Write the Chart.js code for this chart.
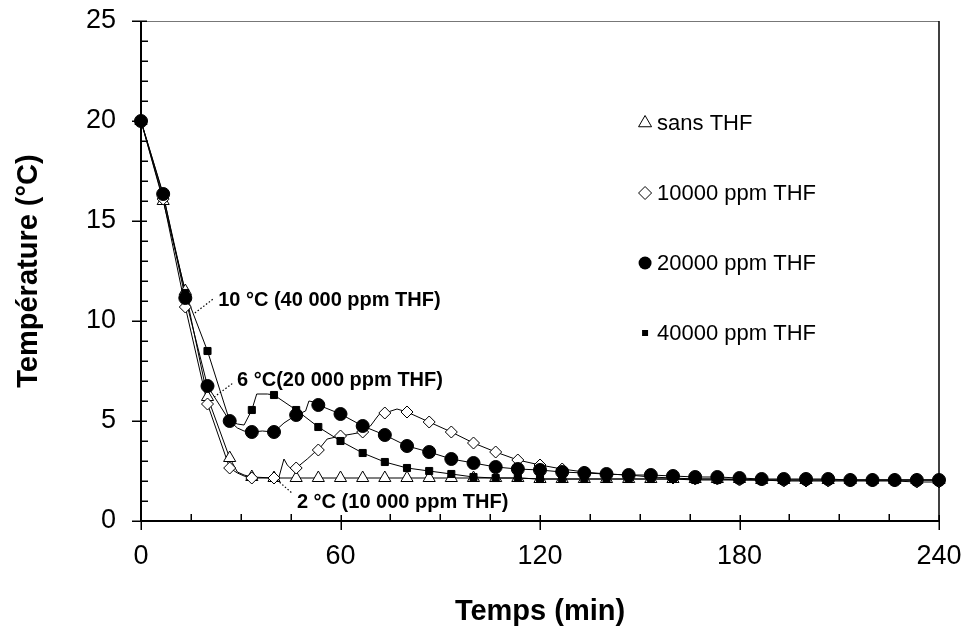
<!DOCTYPE html>
<html><head><meta charset="utf-8">
<script src="https://cdn.jsdelivr.net/npm/chart.js@4.4.0/dist/chart.umd.min.js"></script>
<style>html,body{margin:0;padding:0;background:#fff;}#c{display:block;}</style>
</head><body>
<canvas id="c" width="967" height="633"></canvas>
<script>
// ---- data ----
const SERIES_NAMES = ['sans THF', '10000 ppm THF', '20000 ppm THF', '40000 ppm THF'];
const MARK_T = [0,6.67,13.33,20,26.67,33.33,40,46.67,53.33,60,66.67,73.33,80,86.67,93.33,100,106.67,113.33,120,126.67,133.33,140,146.67,153.33,160,166.67,173.33,180,186.67,193.33,200,206.67,213.33,220,226.67,233.33,240];
const SANS_THF = [20.0,16.0,11.5,6.2,3.15,2.2,2.15,2.15,2.15,2.15,2.15,2.15,2.15,2.15,2.15,2.15,2.15,2.15,2.1,2.1,2.1,2.1,2.1,2.1,2.1,2.1,2.1,2.1,2.05,2.05,2.05,2.05,2.05,2.05,2.05,2.05,2.05];
const THF_10000 = [20.0,16.1,10.7,5.85,2.65,2.15,2.15,2.65,3.55,4.25,4.45,5.4,5.45,4.95,4.45,3.9,3.45,3.05,2.8,2.6,2.45,2.35,2.3,2.2,2.15,2.1,2.1,2.05,2.05,2.0,2.0,2.0,2.0,2.0,2.0,1.95,1.95];
const THF_20000 = [20.0,16.35,11.15,6.75,5.0,4.45,4.45,5.3,5.8,5.35,4.75,4.3,3.75,3.45,3.1,2.9,2.7,2.6,2.55,2.45,2.4,2.35,2.3,2.3,2.25,2.2,2.2,2.15,2.1,2.1,2.1,2.1,2.05,2.05,2.05,2.05,2.05];
const THF_40000 = [20.0,16.3,11.4,8.5,5.0,5.55,6.3,5.55,4.7,4.0,3.4,2.95,2.65,2.5,2.35,2.2,2.15,2.15,2.1,2.1,2.1,2.1,2.1,2.1,2.1,2.05,2.05,2.05,2.05,2.05,2.05,2.05,2.05,2.05,2.05,2.05,2.05];
// extra points of the continuous curves between markers
const SANS_EXTRA_T = [29, 31];
const SANS_EXTRA_V = [2.45, 2.3];
const T10_EXTRA_T = [29, 31, 41.5, 43, 44, 45.5, 50, 52, 56, 63.5, 69, 71, 72.5, 77];
const T10_EXTRA_V = [2.4, 2.25, 2.2, 3.1, 2.8, 2.55, 3.1, 3.4, 4.1, 4.35, 4.75, 5.2, 5.5, 5.6];
const T20_EXTRA_T = [29, 31, 36.5, 43, 49.5, 50.5, 52];
const T20_EXTRA_V = [4.65, 4.5, 4.5, 4.9, 5.5, 6.0, 5.95];
const T40_EXTRA_T = [29, 31, 34.8, 38];
const T40_EXTRA_V = [4.85, 4.8, 6.35, 6.35];
const X_TICKS = [0, 60, 120, 180, 240];
const Y_TICKS = [0, 5, 10, 15, 20, 25];
const NOTE_TEXTS = ['10 °C (40 000 ppm THF)', '6 °C(20 000 ppm THF)', '2 °C (10 000 ppm THF)'];
const NOTE_POS_T = [23.2, 28.9, 46.9];
const NOTE_POS_V = [11.05, 7.05, 0.95];
const LEADER_FROM_T = [16.2, 22.0, 40.9];
const LEADER_FROM_V = [10.4, 6.2, 2.05];
const LEADER_TO_T = [21.7, 27.7, 45.4];
const LEADER_TO_V = [11.1, 6.9, 1.4];
const LEGEND_T = 151.6;
const LEGEND_V = [19.9, 16.4, 12.9, 9.4];

const FAM = '"Liberation Sans", Arial, Helvetica, sans-serif';

function curve(vals, et, ev) {
  const pts = MARK_T.map((t, i) => ({x: t, y: vals[i]}));
  et.forEach((t, i) => pts.push({x: t, y: ev[i]}));
  pts.sort((a, b) => a.x - b.x);
  return pts;
}
function marks(vals) { return MARK_T.map((t, i) => ({x: t, y: vals[i]})); }

const lineDs = (d) => ({data: d, showLine: true, pointRadius: 0, borderColor: '#000', borderWidth: 1, tension: 0, order: 10, clip: false});
const STYLES = [
  {pointStyle: 'triangle', pointRadius: 7, pointBackgroundColor: '#fff', pointBorderColor: '#000', pointBorderWidth: 1, order: 4},
  {pointStyle: 'rectRot', pointRadius: 6, pointBackgroundColor: '#fff', pointBorderColor: '#000', pointBorderWidth: 1, order: 3},
  {pointStyle: 'circle', pointRadius: 6.5, pointBackgroundColor: '#000', pointBorderColor: '#000', pointBorderWidth: 1, order: 1},
  {pointStyle: 'rect', pointRadius: 5, pointBackgroundColor: '#000', pointBorderColor: '#000', pointBorderWidth: 1, order: 2}
];
const markDs = (d, s) => Object.assign({data: d, showLine: false, clip: false}, s);

const datasets = [
  lineDs(curve(SANS_THF, SANS_EXTRA_T, SANS_EXTRA_V)),
  lineDs(curve(THF_10000, T10_EXTRA_T, T10_EXTRA_V)),
  lineDs(curve(THF_20000, T20_EXTRA_T, T20_EXTRA_V)),
  lineDs(curve(THF_40000, T40_EXTRA_T, T40_EXTRA_V)),
  markDs(marks(SANS_THF), STYLES[0]),
  markDs(marks(THF_10000), STYLES[1]),
  markDs(marks(THF_20000), STYLES[2]),
  markDs(marks(THF_40000), STYLES[3])
];

const framePlugin = {
  id: 'frame',
  beforeDatasetsDraw(chart) {
    const {ctx, chartArea: a, scales: {x, y}} = chart;
    ctx.save();
    ctx.strokeStyle = '#777'; ctx.lineWidth = 1;
    ctx.beginPath(); ctx.moveTo(a.left, a.top + 0.5); ctx.lineTo(a.right, a.top + 0.5); ctx.stroke();
    ctx.strokeStyle = '#000'; ctx.lineWidth = 1.5;
    ctx.beginPath(); ctx.moveTo(a.right, a.top); ctx.lineTo(a.right, a.bottom); ctx.stroke();
    ctx.lineWidth = 2;
    ctx.beginPath(); ctx.moveTo(a.left, a.top); ctx.lineTo(a.left, a.bottom); ctx.lineTo(a.right, a.bottom); ctx.stroke();
    ctx.lineWidth = 1.5;
    for (let v = 0; v <= 240; v += 15) {
      const px = Math.round(x.getPixelForValue(v)) + 0.25;
      ctx.beginPath();
      if (v % 60 === 0) { ctx.moveTo(px, a.bottom - 6); ctx.lineTo(px, a.bottom + 9); }
      else { ctx.moveTo(px, a.bottom - 7); ctx.lineTo(px, a.bottom); }
      ctx.stroke();
    }
    for (let v = 0; v <= 25; v += 1) {
      const py = Math.round(y.getPixelForValue(v)) + 0.25;
      ctx.beginPath();
      if (v % 5 === 0) { ctx.moveTo(a.left - 9, py); ctx.lineTo(a.left + 6, py); }
      else { ctx.moveTo(a.left, py); ctx.lineTo(a.left + 7, py); }
      ctx.stroke();
    }
    ctx.restore();
  },
  afterDatasetsDraw(chart) {
    const {ctx, scales: {x, y}} = chart;
    ctx.save();
    // annotations
    ctx.fillStyle = '#000';
    ctx.font = 'bold 20px ' + FAM;
    ctx.textAlign = 'left'; ctx.textBaseline = 'middle';
    NOTE_TEXTS.forEach((t, i) => {
      ctx.fillText(t, x.getPixelForValue(NOTE_POS_T[i]), y.getPixelForValue(NOTE_POS_V[i]));
      ctx.setLineDash([1.5, 2]); ctx.lineWidth = 1.2; ctx.strokeStyle = '#000';
      ctx.beginPath();
      ctx.moveTo(x.getPixelForValue(LEADER_FROM_T[i]), y.getPixelForValue(LEADER_FROM_V[i]));
      ctx.lineTo(x.getPixelForValue(LEADER_TO_T[i]), y.getPixelForValue(LEADER_TO_V[i]));
      ctx.stroke();
      ctx.setLineDash([]);
    });
    // legend
    ctx.font = '22px ' + FAM;
    const lx = x.getPixelForValue(LEGEND_T);
    SERIES_NAMES.forEach((name, i) => {
      const ly = y.getPixelForValue(LEGEND_V[i]);
      ctx.lineWidth = 1; ctx.strokeStyle = '#000'; ctx.fillStyle = '#000';
      ctx.beginPath();
      if (i === 0) {
        const r = 7.5;
        ctx.moveTo(lx, ly - r); ctx.lineTo(lx + r * 0.866, ly + r * 0.5); ctx.lineTo(lx - r * 0.866, ly + r * 0.5); ctx.closePath();
        ctx.fillStyle = '#fff'; ctx.fill(); ctx.stroke();
      } else if (i === 1) {
        const r = 6.5;
        ctx.moveTo(lx, ly - r); ctx.lineTo(lx + r, ly); ctx.lineTo(lx, ly + r); ctx.lineTo(lx - r, ly); ctx.closePath();
        ctx.fillStyle = '#fff'; ctx.fill(); ctx.stroke();
      } else if (i === 2) {
        ctx.arc(lx, ly, 6.5, 0, Math.PI * 2); ctx.fill();
      } else {
        ctx.rect(lx - 3, ly - 3, 6, 6); ctx.fill();
      }
      ctx.fillStyle = '#000';
      ctx.fillText(name, lx + 12, ly + 1);
    });
    ctx.restore();
  }
};

new Chart(document.getElementById('c'), {
  type: 'scatter',
  data: {datasets},
  options: {
    responsive: false, animation: false, events: [],
    layout: {padding: {top: 21, right: 28, left: 0, bottom: 0}},
    plugins: {legend: {display: false}, tooltip: {enabled: false}},
    scales: {
      x: {
        type: 'linear', min: 0, max: 240,
        afterFit(s) { s.height = 112; s.paddingLeft = 0; s.paddingRight = 0; },
        afterBuildTicks(s) { s.ticks = X_TICKS.map(v => ({value: v})); },
        grid: {display: false, drawTicks: false}, border: {display: false},
        ticks: {autoSkip: false, maxRotation: 0, padding: 19, color: '#000', font: {size: 27, family: FAM}},
        title: {display: true, text: 'Temps (min)', color: '#000', font: {size: 29, weight: 'bold', family: FAM}, padding: {top: 0, bottom: 4}}
      },
      y: {
        type: 'linear', min: 0, max: 25,
        afterFit(s) { s.width = 141; s.paddingTop = 0; s.paddingBottom = 0; },
        afterBuildTicks(s) { s.ticks = Y_TICKS.map(v => ({value: v})); },
        grid: {display: false, drawTicks: false}, border: {display: false},
        ticks: {autoSkip: false, padding: 25, color: '#000', font: {size: 27, family: FAM}},
        title: {display: true, text: 'Température (°C)', color: '#000', font: {size: 29, weight: 'bold', family: FAM}, padding: {top: 12, bottom: 0}}
      }
    }
  },
  plugins: [framePlugin]
});
</script>
</body></html>
